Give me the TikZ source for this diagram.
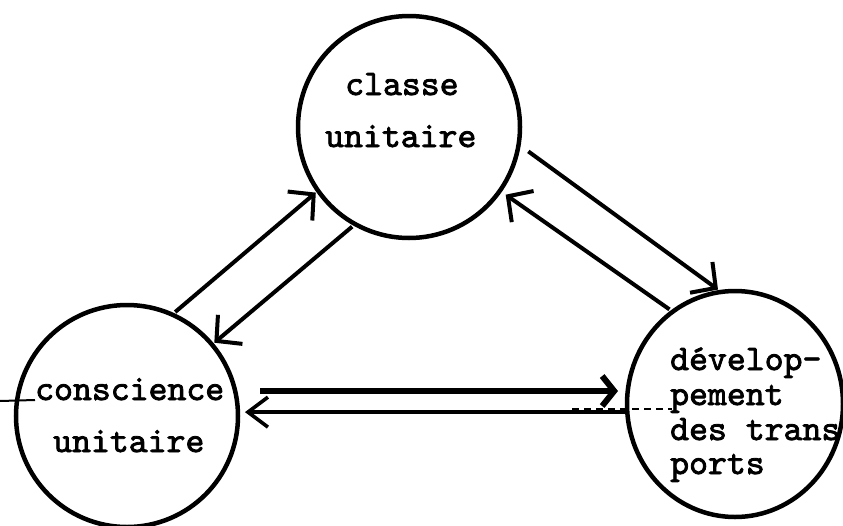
\documentclass[tikz,border=0pt]{standalone}
\usepackage{fontspec}
\usetikzlibrary{arrows.meta,shapes.geometric,calc}
\newfontfamily\typefont{lmmono10-regular}[Extension=.otf,FakeBold=2.2]
\begin{document}
\begin{tikzpicture}[x=1pt,y=-1pt,
  ring/.style={draw,line width=4.5pt,inner sep=0pt,outer sep=0pt},
  label/.style={inner sep=0pt,anchor=base west,font=\typefont\fontsize{36}{38}\selectfont},
  link/.style={line width=4pt,-{Straight Barb[length=18pt,width=38pt]}},
  thin arrow/.style={line width=3.6pt,-{Straight Barb[length=20pt,width=30pt]}},
  thick arrow/.style={line width=6.5pt,-{Straight Barb[length=12pt,width=30pt,line width=6pt]}}]
\useasboundingbox (0,0) rectangle (843,525);
\fill[white] (0,0) rectangle (843,525);

% the three states
\node[ring,circle,minimum size=222pt] (top)   at (409,127) {};
\node[ring,circle,minimum size=222pt] (left)  at (127,416) {};
\node[ring,ellipse,minimum width=216pt,minimum height=226pt] (right) at (735,404) {};

% texts
\node[label] (t1) at (345,95)  {classe};
\node[label] (t2) at (325,147) {unitaire};
\node[label] (l1) at (35,400)  {conscience};
\node[label] (l2) at (53,452)  {unitaire};
\node[label] (r1) at (670,370) {d\'evelop-};
\node[label] (r2) at (670,405) {pement};
\node[label] (r3) at (670,440) {des trans};
\node[label] (r4) at (670,474) {ports};

% rulings across the texts
\coordinate (rulestart) at (0,401);
\draw[line width=2pt] (rulestart) -- (l1.base west);
\coordinate (dashstart) at (572,409);
\draw[line width=1.8pt,dash pattern=on 7pt off 5pt] (dashstart) -- ($(r2.base west)+(2,4)$);

% arrows between top and left
\draw[link,shorten <=4pt,shorten >=3pt] (left.66) -- (top.215);
\draw[link,shorten <=4pt,shorten >=3pt] (top.241) -- (left.40);

% arrows between top and right
\draw[link,shorten <=12pt,shorten >=4pt] (top.351) -- (right.97);
\draw[link,shorten <=4pt,shorten >=7pt] (right.124) -- (top.325);

% arrows between left and right
\draw[thick arrow,shorten <=25pt,shorten >=9pt] (left.13) -- (left.13 -| right.west);
\draw[thin arrow,shorten <=2pt,shorten >=7pt] (left.2 -| right.west) -- (left.2);
\end{tikzpicture}
\end{document}
